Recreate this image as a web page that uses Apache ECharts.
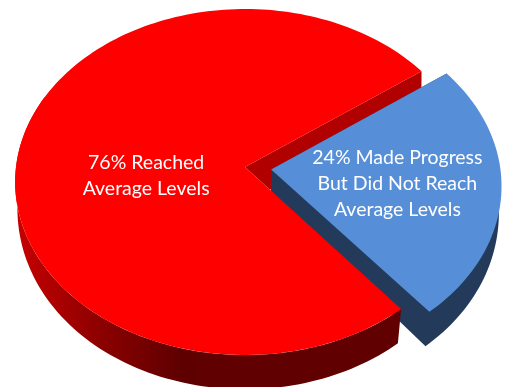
<!DOCTYPE html>
<html>
<head>
<meta charset="utf-8">
<title>Progress toward average levels</title>
<script src="https://cdn.jsdelivr.net/npm/echarts@6/dist/echarts.min.js"></script>
<style>
  html, body { margin: 0; padding: 0; background: #fff; }
  #chart { width: 505px; height: 387px; }
</style>
</head>
<body>
<div id="chart"></div>
<script>
// Slice shares, in percent, and the text printed on each slice.
const sliceShares = [76, 24];
const sliceLabels = ['76% Reached\nAverage Levels', '24% Made Progress\nBut Did Not Reach\nAverage Levels'];
const sliceExplode = [0, 0.115];

const START_DEG = 50.5;     // where the first slice begins, clockwise from 3 o'clock
const RIM_END_DEG = 205;    // past this angle the large slice's rim is behind its face

// Disc projections: unit-circle (u, v) to screen, upper face and lower rim.
const topFace = { cx: 245, cy: 167, a: 229, b: 171.7, k: 0.0867 };
const bottomFace = { cx: 245, cy: 195, a: 227, b: 185.3, kx: 0.072, ky: 0.046 };

function projectTop(u, v) {
  const w = 1 - topFace.k * v;
  return [topFace.cx + topFace.a * u / w, topFace.cy + topFace.b * v / w];
}
function projectBottom(u, v) {
  return [
    bottomFace.cx + bottomFace.a * u / (1 - bottomFace.kx * v),
    bottomFace.cy + bottomFace.b * v / (1 - bottomFace.ky * v)
  ];
}

const RED = {
  top: '#ff0000', wall: '#b00000',
  side: new echarts.graphic.LinearGradient(20, 0, 200, 0, [
    { offset: 0, color: '#c40000' },
    { offset: 0.45, color: '#8c0000' },
    { offset: 0.9, color: '#5e0000' },
    { offset: 1, color: '#600000' }
  ], true)
};
const BLUE = { top: '#568fd8', side: '#243a5a' };

// Text anchors, in the upper face's unit-circle coordinates.
const labelAnchors = [[-0.43, 0.048], [0.66, 0.096]];

function sliceRange(index) {
  const total = sliceShares.reduce((s, x) => s + x, 0);
  let before = 0;
  for (let i = 0; i < index; i++) before += sliceShares[i];
  const from = START_DEG + before / total * 360;
  return [from, from + sliceShares[index] / total * 360];
}

function arcPoints(project, from, to, ox, oy) {
  const pts = [];
  const steps = Math.max(8, Math.ceil((to - from) / 1.5));
  for (let i = 0; i <= steps; i++) {
    const t = (from + (to - from) * i / steps) * Math.PI / 180;
    pts.push(project(ox + Math.cos(t), oy + Math.sin(t)));
  }
  return pts;
}

function polygon(points, fill, z2) {
  return { type: 'polygon', z2, shape: { points }, style: { fill, stroke: null } };
}

function renderSlice(params, api) {
  const i = params.dataIndex;
  const [from, to] = sliceRange(i);
  const mid = (from + to) / 2 * Math.PI / 180;
  const ox = sliceExplode[i] * Math.cos(mid);
  const oy = sliceExplode[i] * Math.sin(mid);

  const apexTop = projectTop(ox, oy);
  const arcTop = arcPoints(projectTop, from, to, ox, oy);
  const arcBottom = arcPoints(projectBottom, from, to, ox, oy);
  const children = [];

  if (i === 0) {
    // The disc's cut wall shows in the gap, behind the pulled-out slice.
    const last = arcTop[arcTop.length - 1];
    const first = arcTop[0];
    const foot = [apexTop[0] + (first[0] - apexTop[0]) * 0.16, apexTop[1] + (first[1] - apexTop[1]) * 0.16];
    children.push(polygon([apexTop, last, arcBottom[arcBottom.length - 1], foot], RED.wall, 1));
    // Rim and face of the large slice sit above the small one.
    const rimTop = arcPoints(projectTop, from, RIM_END_DEG, ox, oy);
    const rimBottom = arcPoints(projectBottom, from, RIM_END_DEG, ox, oy);
    children.push(polygon(rimTop.concat(rimBottom.reverse()), RED.side, 5));
    children.push(polygon([apexTop].concat(arcTop), RED.top, 6));
  } else {
    // One silhouette for the small slice's wall and rim, so no seam shows.
    const apexBottom = projectBottom(ox, oy);
    children.push(polygon([apexTop, apexBottom].concat(arcBottom.slice().reverse(), [arcTop[0]]), BLUE.side, 3));
    children.push(polygon([apexTop].concat(arcTop), BLUE.top, 4));
  }

  const anchor = projectTop(labelAnchors[i][0], labelAnchors[i][1]);
  children.push({
    type: 'text',
    z2: 10,
    style: {
      text: sliceLabels[i],
      x: anchor[0],
      y: anchor[1],
      align: 'center',
      verticalAlign: 'middle',
      fill: '#ffffff',
      font: '19.5px Lato',
      lineHeight: 26
    }
  });
  return { type: 'group', children };
}

const chart = echarts.init(document.getElementById('chart'), null, { renderer: 'canvas' });
chart.setOption({
  animation: false,
  backgroundColor: '#ffffff',
  series: [{
    type: 'custom',
    coordinateSystem: 'none',
    renderItem: renderSlice,
    silent: true,
    data: sliceShares.map((v, i) => ({ value: v, name: sliceLabels[i] }))
  }]
});
</script>
</body>
</html>
